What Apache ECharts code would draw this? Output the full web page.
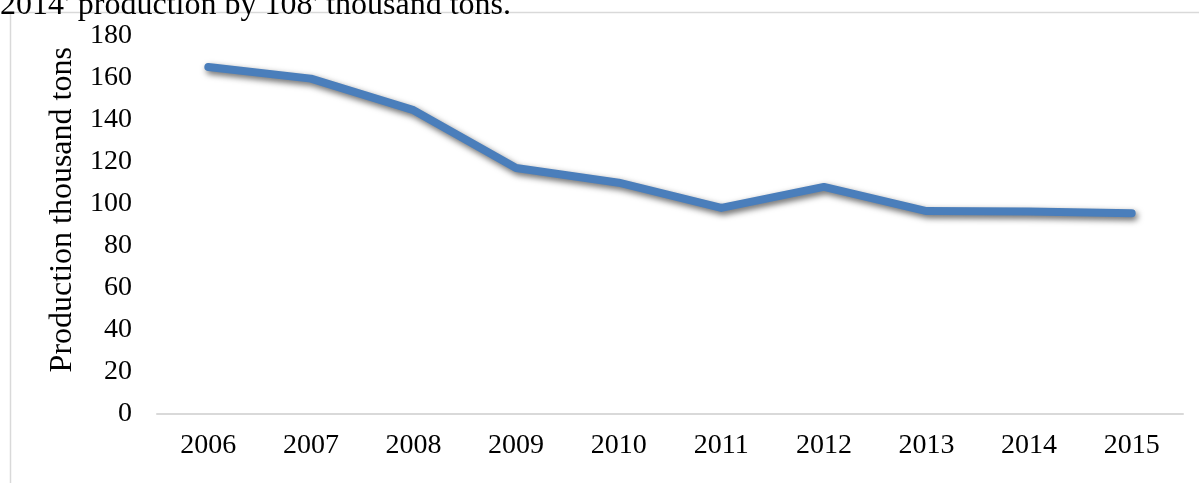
<!DOCTYPE html>
<html>
<head>
<meta charset="utf-8">
<script src="https://cdn.jsdelivr.net/npm/echarts@6/dist/echarts.min.js"></script>
<style>
html,body{margin:0;padding:0;background:#fff;}
#chart{width:1199px;height:483px;}
</style>
</head>
<body>
<div id="chart"></div>
<script>
// data
var years = ["2006","2007","2008","2009","2010","2011","2012","2013","2014","2015"];
var production = [165, 159.5, 144.5, 117, 110, 98, 108, 96.5, 96.3, 95.5];
var yTicks = [0, 20, 40, 60, 80, 100, 120, 140, 160, 180];
var topNote = "2014' production by 108' thousand tons.";
var yName = "Production thousand tons";

var fnt = "Liberation Serif";
var myChart = echarts.init(document.getElementById("chart"));

var option = {
	animation: false,
	grid: { left: 157, right: 16, top: 35.5, bottom: 69 },
	graphic: [
		{ type: "line", shape: { x1: 10.5, y1: 12, x2: 10.5, y2: 483 }, style: { stroke: "#d9d9d9", lineWidth: 1.5 } },
		{ type: "line", shape: { x1: 10, y1: 12.5, x2: 1199, y2: 12.5 }, style: { stroke: "#d9d9d9", lineWidth: 1.5 } },
		{ type: "text", left: 0, top: -10, z: 10,
			style: { text: topNote, fill: "#000", font: "32px '" + fnt + "'" } }
	],
	xAxis: {
		type: "category",
		data: years,
		boundaryGap: true,
		axisLine: { lineStyle: { color: "#d9d9d9", width: 2 } },
		axisTick: { show: false },
		axisLabel: { color: "#000", fontFamily: fnt, fontSize: 28, margin: 18 }
	},
	yAxis: {
		type: "value",
		min: yTicks[0],
		max: yTicks[yTicks.length - 1],
		interval: 20,
		name: yName,
		nameLocation: "middle",
		nameRotate: 90,
		nameGap: 78,
		nameTextStyle: { color: "#000", fontFamily: fnt, fontSize: 32, padding: [0, 0, 0, 30] },
		axisLine: { show: false },
		axisTick: { show: false },
		splitLine: { show: false },
		axisLabel: { color: "#000", fontFamily: fnt, fontSize: 28, margin: 25 }
	},
	series: [{
		type: "line",
		data: production,
		symbol: "none",
		lineStyle: {
			color: "#4a7ebb",
			width: 8,
			cap: "round",
			join: "round",
			shadowColor: "rgba(0,0,0,0.6)",
			shadowBlur: 6,
			shadowOffsetX: 2,
			shadowOffsetY: 3
		}
	}]
};
myChart.setOption(option);
</script>
</body>
</html>
